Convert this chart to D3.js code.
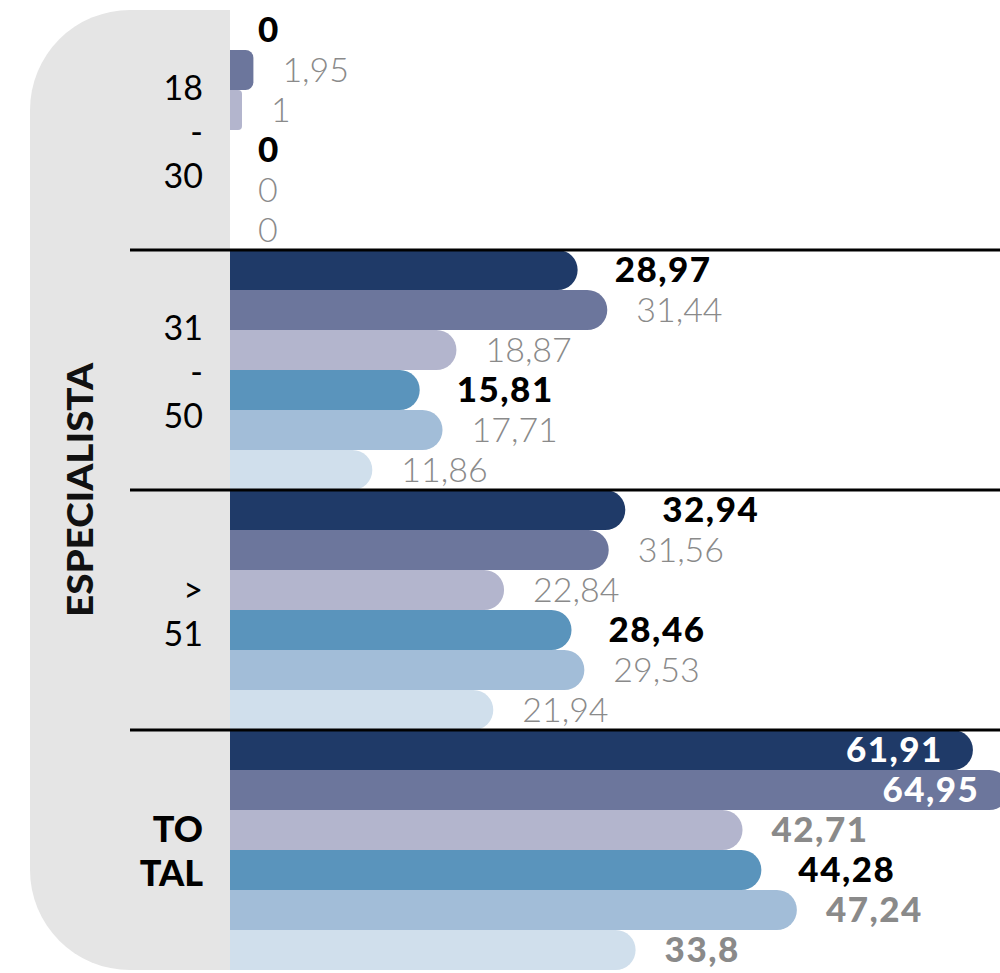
<!DOCTYPE html>
<html>
<head>
<meta charset="utf-8">
<script src="https://cdn.jsdelivr.net/npm/d3@7"></script>
<style>
  html, body { margin: 0; padding: 0; background: #fff; }
  svg { display: block; }
</style>
</head>
<body>
<svg id="chart" width="1000" height="973"></svg>
<script>
// Age groups (rows) and the stacked lines of their labels
const groups = ["18-30", "31-50", ">51", "TOTAL"];
const groupLabelLines = [["18", "-", "30"], ["31", "-", "50"], [">", "51"], ["TO", "TAL"]];

// Six series per age group
const seriesNames = ["s1", "s2", "s3", "s4", "s5", "s6"];
const seriesColors = ["#1f3a68", "#6c769c", "#b3b5cd", "#5a94bc", "#a2bdd8", "#d0dfec"];

const values1830 = [0, 1.95, 1, 0, 0, 0];
const values3150 = [28.97, 31.44, 18.87, 15.81, 17.71, 11.86];
const values51 = [32.94, 31.56, 22.84, 28.46, 29.53, 21.94];
const valuesTotal = [61.91, 64.95, 42.71, 44.28, 47.24, 33.8];

const sideTitle = "ESPECIALISTA";

const groupValues = [values1830, values3150, values51, valuesTotal];

const svg = d3.select("#chart");
const x0 = 230;            // bar baseline
const plotTop = 10, plotBottom = 970;

const x = d3.scaleLinear().domain([0, 65]).range([x0, x0 + 780]);
const yGroup = d3.scaleBand().domain(groups).range([plotTop, plotBottom]).paddingInner(0).paddingOuter(0);
const ySeries = d3.scaleBand().domain(seriesNames).range([0, yGroup.bandwidth()]).padding(0);

// grey side panel, rounded on the left
const panelX = 30, panelR = 100;
svg.append("path")
  .attr("d", `M${x0},${plotTop} L${panelX + panelR},${plotTop} A${panelR},${panelR} 0 0 0 ${panelX},${plotTop + panelR}
              L${panelX},${plotBottom - panelR} A${panelR},${panelR} 0 0 0 ${panelX + panelR},${plotBottom} L${x0},${plotBottom} Z`)
  .attr("fill", "#e5e5e5");

// rotated side title
svg.append("text")
  .attr("transform", `translate(93,490) rotate(-90)`)
  .attr("text-anchor", "middle")
  .attr("font-family", "Lato, 'DejaVu Sans', sans-serif")
  .attr("font-weight", 900)
  .attr("font-size", 36)
  .attr("textLength", 254)
  .attr("lengthAdjust", "spacingAndGlyphs")
  .attr("fill", "#111")
  .text(sideTitle);

// bar with square left edge and rounded right end
function barPath(w, h) {
  if (w <= 0) return "";
  const r = Math.min(h / 2, w / 3);
  return `M0,0 L${w - r},0 A${r},${r} 0 0 1 ${w},${r} L${w},${h - r} A${r},${r} 0 0 1 ${w - r},${h} L0,${h} Z`;
}

const fmt = v => String(v).replace(".", ",");

groups.forEach((g, gi) => {
  const gy = yGroup(g);
  const vals = groupValues[gi];
  const isTotal = g === "TOTAL";
  const gG = svg.append("g").attr("transform", `translate(0,${gy})`);

  seriesNames.forEach((s, si) => {
    const v = vals[si];
    const by = ySeries(s);
    const h = ySeries.bandwidth();
    const w = x(v) - x0;
    gG.append("path")
      .attr("transform", `translate(${x0},${by})`)
      .attr("d", barPath(w, h))
      .attr("fill", seriesColors[si]);

    const strong = si === 0 || si === 3;
    const bold = strong || isTotal;
    const inside = isTotal && (si === 0 || si === 1);
    const t = gG.append("text")
      .attr("y", by + h / 2 + 12)
      .attr("font-family", "Lato, 'DejaVu Sans', sans-serif")
      .attr("font-size", bold ? 35 : 34)
      .attr("letter-spacing", bold ? 1.5 : 0)
      .attr("font-weight", bold ? 900 : 300)
      .text(fmt(v));
    if (inside) {
      t.attr("x", x(v) - 30).attr("text-anchor", "end").attr("fill", "#fff");
    } else {
      const gap = v === 0 ? 28 : (strong ? 37 : 29);
      t.attr("x", x(v) + gap).attr("text-anchor", "start")
        .attr("fill", strong ? "#000" : "#8a8a8a");
    }
  });

  // stacked group label
  const lines = groupLabelLines[gi];
  const mid = yGroup.bandwidth() / 2;
  const lh = 44;
  const first = mid + 14 - (lines.length - 1) * lh / 2;
  lines.forEach((ln, li) => {
    gG.append("text")
      .attr("x", 203)
      .attr("y", first + li * lh)
      .attr("text-anchor", "end")
      .attr("font-family", "Lato, 'DejaVu Sans', sans-serif")
      .attr("font-weight", isTotal ? 900 : 400)
      .attr("font-size", isTotal ? 36 : 34)
      .attr("fill", "#000")
      .text(ln);
  });
});

// separators between age groups
groups.slice(1).forEach(g => {
  svg.append("line")
    .attr("x1", 130).attr("x2", 1000)
    .attr("y1", yGroup(g)).attr("y2", yGroup(g))
    .attr("stroke", "#000").attr("stroke-width", 3);
});
</script>
</body>
</html>
